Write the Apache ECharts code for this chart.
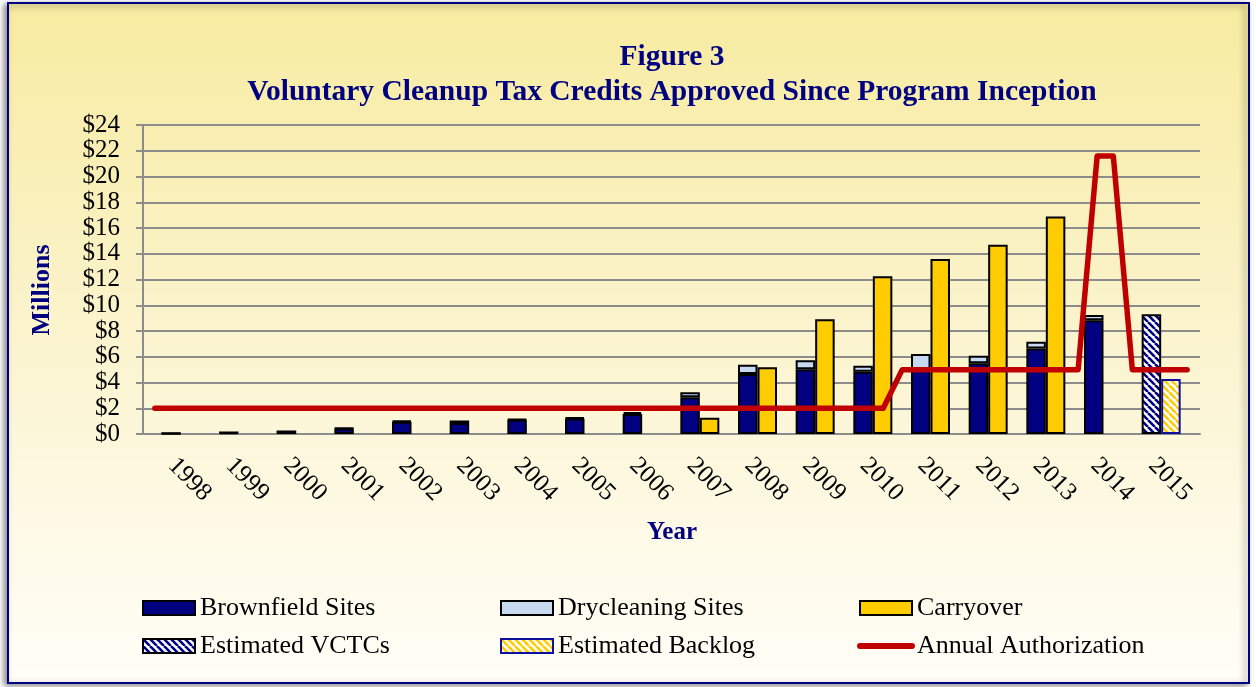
<!DOCTYPE html>
<html>
<head>
<meta charset="utf-8">
<script src="https://cdn.jsdelivr.net/npm/echarts@6/dist/echarts.min.js"></script>
<style>
html,body{margin:0;padding:0;background:#fff;}
#chart{width:1256px;height:687px;}
</style>
</head>
<body>
<div id="chart"></div>
<script>
// ---- data ----
const years = ['1998','1999','2000','2001','2002','2003','2004','2005','2006','2007','2008','2009','2010','2011','2012','2013','2014','2015'];
const brownfield  = [0.05, 0.12, 0.2, 0.42, 0.95, 0.85, 1.1, 1.2, 1.55, 2.85, 4.66, 5.02, 4.84, 5.0, 5.49, 6.65, 8.83, null];
const drycleaning = [0, 0, 0, 0.05, 0.08, 0.2, 0.07, 0.08, 0.15, 0.39, 0.72, 0.7, 0.47, 1.21, 0.59, 0.52, 0.41, null];
const carryover   = [null, null, null, null, null, null, null, null, null, 1.27, 5.18, 8.91, 12.25, 13.59, 14.7, 16.9, null, null];
const estVCTC     = [null, null, null, null, null, null, null, null, null, null, null, null, null, null, null, null, null, 9.3];
const estBacklog  = [null, null, null, null, null, null, null, null, null, null, null, null, null, null, null, null, null, 4.27];
const authYear    = [1997.55, 2010.18, 2010.51, 2013.56, 2013.89, 2014.17, 2014.50, 2015.45];
const authAmount  = [2, 2, 5, 5, 21.6, 21.6, 5, 5];

function hatch(fg, bg) {
  const s = 7;
  const c = document.createElement('canvas');
  c.width = s; c.height = s;
  const g = c.getContext('2d');
  g.fillStyle = bg; g.fillRect(0, 0, s, s);
  g.strokeStyle = fg; g.lineWidth = 2.6;
  for (let k = -s; k <= s; k += s) {
    g.beginPath(); g.moveTo(k, 0); g.lineTo(k + s, s); g.stroke();
  }
  return { image: c, repeat: 'repeat' };
}

const serif = 'Liberation Serif, Times New Roman, serif';
const navy = '#000080';
const red = '#C00000';
const chart = echarts.init(document.getElementById('chart'));

const legendBase = {
  orient: 'vertical', top: 595, padding: 0, itemWidth: 52, itemHeight: 14, itemGap: 12,
  textStyle: { fontFamily: serif, fontSize: 26, color: '#000', lineHeight: 24 },
  selectedMode: false
};
const r = name => ({ name: name, icon: 'rect' });

chart.setOption({
  backgroundColor: 'transparent',
  animation: false,
  graphic: [
    { type: 'rect', z: -10, shape: { x: 8, y: 3, width: 1241, height: 680 },
      style: { fill: new echarts.graphic.LinearGradient(0, 0, 0, 1, [
        { offset: 0, color: '#F7EBA0' }, { offset: 0.5, color: '#FBF4CF' }, { offset: 1, color: '#FFFEF8' }]),
        stroke: navy, lineWidth: 2, shadowBlur: 6, shadowOffsetX: -3, shadowOffsetY: 2, shadowColor: 'rgba(0,0,0,0.45)' } },
    { type: 'text', x: 42, y: 290, rotation: Math.PI / 2,
      style: { text: 'Millions', fontFamily: serif, fontSize: 26, fontWeight: 'bold', fill: navy, align: 'center', verticalAlign: 'middle' } },
    { type: 'text', x: 672, y: 533,
      style: { text: 'Year', fontFamily: serif, fontSize: 25, fontWeight: 'bold', fill: navy, align: 'center', verticalAlign: 'middle' } }
  ],
  title: {
    text: 'Figure 3\nVoluntary Cleanup Tax Credits Approved Since Program Inception',
    left: 672, textAlign: 'center', top: 40, padding: 0,
    textStyle: { fontFamily: serif, fontSize: 29.5, fontWeight: 'bold', color: navy, lineHeight: 35 }
  },
  legend: [
    Object.assign({}, legendBase, { left: 142, data: [r('Brownfield Sites'), r('Estimated VCTCs')] }),
    Object.assign({}, legendBase, { left: 500, data: [r('Drycleaning Sites'), r('Estimated Backlog')] }),
    Object.assign({}, legendBase, { left: 857, data: [r('Carryover'),
      { name: 'Annual Authorization', itemStyle: { opacity: 0 }, lineStyle: { width: 6, cap: 'round', color: red } }] })
  ],
  grid: [
    { left: 143, right: 56, top: 125, bottom: 253, containLabel: false },
    { left: 152, width: 1038, top: 125, bottom: 253, containLabel: false }
  ],
  xAxis: [
    { gridIndex: 0, type: 'value', min: 0, max: 1, axisLabel: { show: false }, axisTick: { show: false },
      splitLine: { show: false }, axisLine: { show: true, lineStyle: { color: '#8C8C8C', width: 2 } } },
    { gridIndex: 1, type: 'category', data: years, axisLine: { show: false }, axisTick: { show: false },
      axisLabel: { interval: 0, rotate: -45, margin: 19, align: 'left', verticalAlign: 'top',
        fontFamily: serif, fontSize: 25, color: '#000' } },
    { gridIndex: 1, type: 'value', min: 1997.5, max: 2015.5, show: false }
  ],
  yAxis: [
    { gridIndex: 0, type: 'value', min: 0, max: 24, interval: 2,
      axisLine: { show: true, lineStyle: { color: '#8C8C8C', width: 2 } },
      axisTick: { show: true, length: 7, lineStyle: { color: '#8C8C8C', width: 2 } },
      splitLine: { show: true, lineStyle: { color: '#8C8C8C', width: 2 } },
      axisLabel: { margin: 23, fontFamily: serif, fontSize: 25, color: '#000', formatter: v => '$' + v } },
    { gridIndex: 1, type: 'value', min: 0, max: 24, show: false, splitLine: { show: false } }
  ],
  series: [
    { name: 'Brownfield Sites', type: 'bar', xAxisIndex: 1, yAxisIndex: 1, stack: 'a', barWidth: 19.5, barGap: '0%',
      data: brownfield, itemStyle: { color: navy, borderColor: '#000', borderWidth: 2 } },
    { name: 'Drycleaning Sites', type: 'bar', xAxisIndex: 1, yAxisIndex: 1, stack: 'a', barWidth: 19.5, barGap: '0%',
      data: drycleaning, itemStyle: { color: '#C6D9F1', borderColor: '#000', borderWidth: 2 } },
    { name: 'Estimated VCTCs', type: 'bar', xAxisIndex: 1, yAxisIndex: 1, stack: 'a', barWidth: 19.5, barGap: '0%',
      data: estVCTC, itemStyle: { color: hatch(navy, '#ffffff'), borderColor: '#000', borderWidth: 2 } },
    { name: 'Carryover', type: 'bar', xAxisIndex: 1, yAxisIndex: 1, stack: 'b', barWidth: 19.5, barGap: '0%',
      data: carryover, itemStyle: { color: '#FFCC00', borderColor: '#000', borderWidth: 2 } },
    { name: 'Estimated Backlog', type: 'bar', xAxisIndex: 1, yAxisIndex: 1, stack: 'b', barWidth: 19.5, barGap: '0%',
      data: estBacklog, itemStyle: { color: hatch('#FFCC00', '#ffffff'), borderColor: '#1010A0', borderWidth: 2 } },
    { name: 'Annual Authorization', type: 'line', xAxisIndex: 2, yAxisIndex: 1, symbol: 'none', z: 5,
      data: authYear.map((y, i) => [y, authAmount[i]]),
      lineStyle: { color: red, width: 5.5, cap: 'round', join: 'round' },
      itemStyle: { color: red } }
  ]
});
</script>
</body>
</html>
